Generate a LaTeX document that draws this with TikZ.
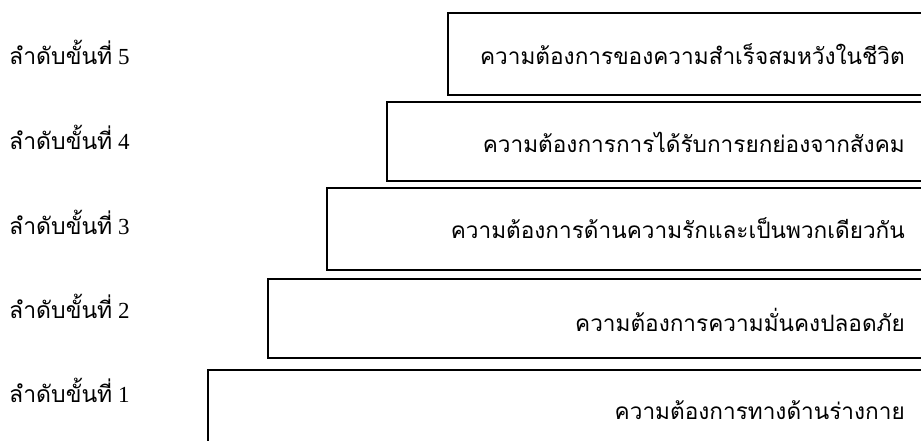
\documentclass[tikz,border=0pt]{standalone}
\usepackage{fontspec}
\setmainfont{Liberation Serif}
\newfontfamily\thaifont[Script=Thai]{Loma}
\begin{document}
\begin{tikzpicture}[x=1pt,y=-1pt,
  stepbox/.style={draw=black,line width=2.2pt,rectangle,anchor=north west,inner sep=0pt},
  boxtext/.style={anchor=east,font=\thaifont\fontsize{22.6}{26}\selectfont,inner sep=0pt},
  lvl/.style={anchor=west,font=\fontsize{23}{27}\selectfont,inner sep=0pt}]
\useasboundingbox (0,0) rectangle (921,441);
\clip (0,0) rectangle (921,441);
\node[stepbox,minimum width=500pt,minimum height=82pt] (b5) at (447,12) {};
\node[stepbox,minimum width=560pt,minimum height=79pt] (b4) at (386,101) {};
\node[stepbox,minimum width=620pt,minimum height=82pt] (b3) at (326,187) {};
\node[stepbox,minimum width=680pt,minimum height=79pt] (b2) at (267,278) {};
\node[stepbox,minimum width=740pt,minimum height=100pt] (b1) at (207,369) {};
\node[boxtext] (t5) at (905,54) {ความต้องการของความสำเร็จสมหวังในชีวิต};
\node[boxtext] (t4) at (905,142) {ความต้องการการได้รับการยกย่องจากสังคม};
\node[boxtext] (t3) at (905,228) {ความต้องการด้านความรักและเป็นพวกเดียวกัน};
\node[boxtext] (t2) at (905,320) {ความต้องการความมั่นคงปลอดภัย};
\node[boxtext] (t1) at (905,410) {ความต้องการทางด้านร่างกาย};
\node[lvl] (l5) at (9,52) {{\thaifont ลำดับขั้นที่} 5};
\node[lvl] (l4) at (9,137) {{\thaifont ลำดับขั้นที่} 4};
\node[lvl] (l3) at (9,222) {{\thaifont ลำดับขั้นที่} 3};
\node[lvl] (l2) at (9,306) {{\thaifont ลำดับขั้นที่} 2};
\node[lvl] (l1) at (9,390) {{\thaifont ลำดับขั้นที่} 1};
\end{tikzpicture}
\end{document}
